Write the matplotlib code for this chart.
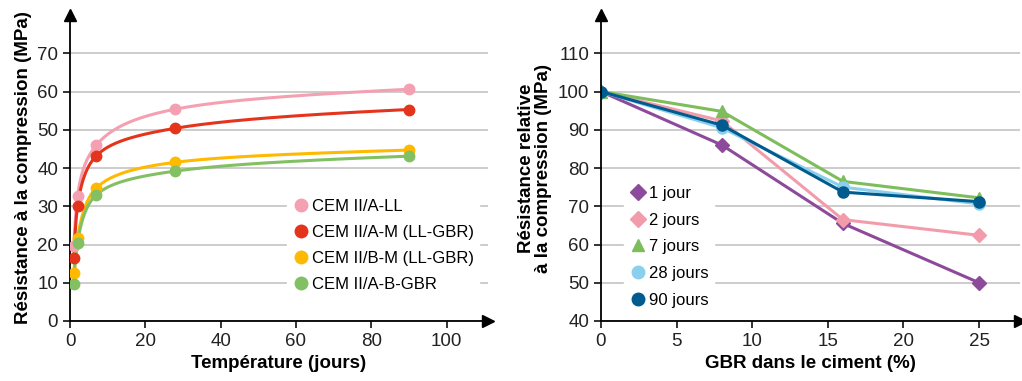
import matplotlib.pyplot as plt
from matplotlib.lines import Line2D
import numpy as np

# donnees graphique de gauche
jours = [1, 2, 7, 28, 90]
cem_ll = [19.5, 32.8, 46, 55.4, 60.6]
cem_am = [16.5, 30, 43.2, 50.4, 55.3]
cem_bm = [12.6, 21.8, 34.8, 41.5, 44.7]
cem_gbr = [9.8, 20.5, 33, 39.2, 43.1]

# donnees graphique de droite
gbr = [0, 8, 16, 25]
j1 = [100, 86, 65.5, 50]
j2 = [100, 92.3, 66.5, 62.4]
j7 = [100, 94.8, 76.5, 72.2]
j28 = [100, 90.5, 75, 70.6]
j90 = [100, 91.2, 73.7, 71.2]

plt.rcParams['font.family'] = ['Liberation Sans', 'DejaVu Sans']
bold_font = ['Liberation Sans Narrow', 'Liberation Sans']


def pchip(x, y, xn):
    # courbe lisse monotone pour le trace
    x = np.asarray(x, float); y = np.asarray(y, float)
    h = np.diff(x); d = np.diff(y) / h
    m = np.zeros_like(y)
    for k in range(1, len(x) - 1):
        if d[k-1] * d[k] > 0:
            w1 = 2*h[k] + h[k-1]; w2 = h[k] + 2*h[k-1]
            m[k] = (w1 + w2) / (w1/d[k-1] + w2/d[k])
    m[0] = d[0]; m[-1] = d[-1]
    i = np.clip(np.searchsorted(x, xn) - 1, 0, len(x) - 2)
    t = (xn - x[i]) / h[i]
    h00 = 2*t**3 - 3*t**2 + 1; h10 = t**3 - 2*t**2 + t
    h01 = -2*t**3 + 3*t**2; h11 = t**3 - t**2
    return h00*y[i] + h10*h[i]*m[i] + h01*y[i+1] + h11*h[i]*m[i+1]


def axes_fleches(ax):
    for s in ['top', 'right']:
        ax.spines[s].set_visible(False)
    for s in ['left', 'bottom']:
        ax.spines[s].set_linewidth(1.3)
    ax.plot(1, 0, '>k', ms=9, transform=ax.transAxes, clip_on=False)
    ax.plot(0, 1, '^k', ms=9, transform=ax.transAxes, clip_on=False)
    ax.tick_params(labelsize=13.5, width=1.3, length=5, colors='#222222')
    ax.yaxis.grid(True, color='#c8c8c8', lw=1.3)
    ax.set_axisbelow(True)


fig = plt.figure(figsize=(10.22, 3.81), dpi=100)

# graphique de gauche
ax1 = fig.add_axes([0.0685, 0.1575, 0.409, 0.803])
axes_fleches(ax1)
series1 = [(cem_ll, '#f4a0b2', 'CEM II/A-LL'),
           (cem_am, '#e5341c', 'CEM II/A-M (LL-GBR)'),
           (cem_bm, '#ffb900', 'CEM II/B-M (LL-GBR)'),
           (cem_gbr, '#82c063', 'CEM II/A-B-GBR')]
lx = np.log(jours)
xs = np.linspace(lx[0], lx[-1], 300)
for vals, c, lab in series1:
    ax1.plot(np.exp(xs), pchip(lx, vals, xs), color=c, lw=2.2)
for vals, c, lab in series1:
    ax1.plot(jours, vals, 'o', color=c, ms=7.5, zorder=4)
ax1.set_xlim(0, 111)
ax1.set_ylim(0, 80)
ax1.set_xticks([0, 20, 40, 60, 80, 100])
ax1.set_yticks(range(0, 80, 10))
ax1.set_xlabel('Température (jours)', fontsize=13.5, fontweight='bold', family=bold_font)
ax1.set_ylabel('Résistance à la compression (MPa)', fontsize=13.5, fontweight='bold',
               family=bold_font)
h1 = [Line2D([], [], ls='none', marker='o', color=c, ms=9) for v, c, l in series1]
leg1 = ax1.legend(h1, [l for v, c, l in series1], loc='upper left',
                  bbox_to_anchor=(0.5, 0.443), frameon=True,
                  fontsize=12, handletextpad=0.2, labelspacing=0.66,
                  borderpad=0.3, handlelength=1.0, fancybox=False)
leg1.get_frame().set_edgecolor('white')
leg1.get_frame().set_alpha(1)

# graphique de droite
ax2 = fig.add_axes([0.588, 0.1575, 0.41, 0.803])
axes_fleches(ax2)
series2 = [(j1, '#8e4a9a', 'D', '1 jour', 7),
           (j2, '#f29cab', 'D', '2 jours', 7),
           (j7, '#7dbd5b', '^', '7 jours', 8),
           (j28, '#8ad0ee', 'o', '28 jours', 8),
           (j90, '#005b8e', 'o', '90 jours', 8)]
for vals, c, m, lab, ms in series2:
    ax2.plot(gbr, vals, color=c, lw=2.2, marker=m, ms=ms)
ax2.set_xlim(0, 27.7)
ax2.set_ylim(40, 120)
ax2.set_xticks([0, 5, 10, 15, 20, 25])
ax2.set_yticks(range(40, 120, 10))
ax2.set_xlabel('GBR dans le ciment (%)', fontsize=13.5, fontweight='bold', family=bold_font)
ax2.set_ylabel('Résistance relative\nà la compression (MPa)', fontsize=13.5,
               fontweight='bold', linespacing=1.0, family=bold_font)
h2 = [Line2D([], [], ls='none', marker=m, color=c, ms=ms + 1) for v, c, m, l, ms in series2]
leg2 = ax2.legend(h2, [s[3] for s in series2], loc='upper left',
                  bbox_to_anchor=(0.036, 0.485), frameon=True,
                  fontsize=12, handletextpad=0.2, labelspacing=0.7,
                  borderpad=0.3, handlelength=1.0, fancybox=False)
leg2.get_frame().set_edgecolor('white')
leg2.get_frame().set_alpha(1)

fig.savefig('out.png', dpi=100)
